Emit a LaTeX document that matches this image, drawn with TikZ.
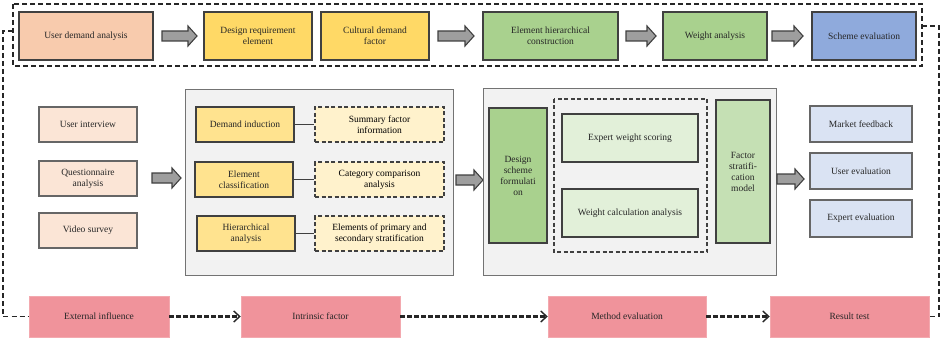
\documentclass[tikz,border=0pt]{standalone}
\usepackage{fontspec}
\setmainfont{Liberation Serif}
\usetikzlibrary{arrows.meta}
\definecolor{peach}{HTML}{F8CBAD}
\definecolor{lpeach}{HTML}{FBE5D6}
\definecolor{yel}{HTML}{FFD966}
\definecolor{myel}{HTML}{FFE38F}
\definecolor{lyel}{HTML}{FFF2CC}
\definecolor{grn}{HTML}{A9D18E}
\definecolor{mgrn}{HTML}{C5E0B4}
\definecolor{lgrn}{HTML}{E2F0D9}
\definecolor{blu}{HTML}{8FAADC}
\definecolor{lblu}{HTML}{DAE3F3}
\definecolor{pink}{HTML}{F0939B}
\definecolor{panel}{HTML}{F2F2F2}
\definecolor{edge}{HTML}{404040}
\newcommand\barr[3]{\draw[barrowst] ({#1},{#3-5}) -- ({#2-9},{#3-5}) -- ({#2-9},{#3-10}) -- ({#2},{#3}) -- ({#2-9},{#3+10}) -- ({#2-9},{#3+5}) -- ({#1},{#3+5}) -- cycle;}
\begin{document}
\begin{tikzpicture}[x=1pt,y=-1pt,
  every node/.style={font=\fontsize{9.5}{11}\selectfont, align=center, inner sep=1pt},
  box/.style={draw=edge, line width=1.2pt, minimum width=#1, text=black!85},
  pbox/.style={fill=pink, draw=pink!80!white, line width=0.5pt, minimum width=#1, minimum height=41pt, text=black!85},
  dbox/.style={draw=edge, line width=1.1pt, dash pattern=on 4pt off 2.5pt, fill=lyel, minimum width=#1, minimum height=35pt},
  barrowst/.style={draw=edge, fill=black!38, line width=1.1pt, line join=miter},
  loopln/.style={draw=black!85, line width=1.5pt, dash pattern=on 5pt off 3pt},
  chain/.style={draw=black!85, line width=2.2pt, dash pattern=on 5pt off 2pt, -{Straight Barb[length=6pt,width=11pt,line width=1.4pt]}},
  link/.style={draw=edge, line width=1pt}
]
\useasboundingbox (0,0) rectangle (941,342);
% top frame
\draw[loopln] (13,4) rectangle (922,66);
\node[box=134pt, minimum height=48pt, fill=peach] (uda) at (86,36) {User demand analysis};
\node[box=108pt, minimum height=48pt, fill=yel] (dre) at (258,36) {Design requirement\\element};
\node[box=108pt, minimum height=48pt, fill=yel] (cdf) at (375,36) {Cultural demand\\factor};
\node[box=135pt, minimum height=48pt, fill=grn] (ehc) at (550.5,36) {Element hierarchical\\construction};
\node[box=104pt, minimum height=48pt, fill=grn] (wa) at (715,36) {Weight analysis};
\node[box=104pt, minimum height=48pt, fill=blu] (se) at (864,36) {Scheme evaluation};
\barr{162}{197}{36}
\barr{438}{474}{36}
\barr{626}{656}{36}
\barr{772}{803}{36}
% left inputs
\node[box=98pt, minimum height=35pt, fill=lpeach, draw=black!60] (ui) at (88,124.5) {User interview};
\node[box=98pt, minimum height=35pt, fill=lpeach, draw=black!60] (qa) at (88,178.5) {Questionnaire\\analysis};
\node[box=98pt, minimum height=35pt, fill=lpeach, draw=black!60] (vs) at (88,230.5) {Video survey};
\barr{152}{181}{178}
% panel 1
\draw[fill=panel, draw=black!55, line width=0.9pt] (185,89) rectangle (453,275);
\node[box=98pt, minimum height=35pt, fill=myel] (di) at (245,124.5) {Demand induction};
\node[box=98pt, minimum height=35pt, fill=myel] (ec) at (244,179.5) {Element\\classification};
\node[box=98pt, minimum height=35pt, fill=myel] (ha) at (246,233.5) {Hierarchical\\analysis};
\node[dbox=129pt] (sf) at (379.5,124.5) {Summary factor\\information};
\node[dbox=129pt] (cc) at (379.5,179.5) {Category comparison\\analysis};
\node[dbox=129pt] (ep) at (379.5,233.5) {Elements of primary and\\secondary stratification};
\draw[link] (di.east) -- (sf.west);
\draw[link] (ec.east) -- (cc.west);
\draw[link] (ha.east) -- (ep.west);
\barr{456}{483}{180}
% panel 2
\draw[fill=panel, draw=black!55, line width=0.9pt] (483,88) rectangle (776,275);
\node[box=58pt, minimum height=135pt, fill=grn] (dsf) at (518,175.5) {Design\\scheme\\formulati\\on};
\draw[draw=edge, line width=1.1pt, dash pattern=on 4pt off 2.5pt] (554,99) rectangle (707,252);
\node[box=136pt, minimum height=48pt, fill=lgrn] (ews) at (630,138) {Expert weight scoring};
\node[box=136pt, minimum height=48pt, fill=lgrn] (wca) at (630,213) {Weight calculation analysis};
\node[box=54pt, minimum height=143pt, fill=mgrn] (fsm) at (743,171.5) {Factor\\stratifi-\\cation\\model};
\barr{777}{804}{179}
% right outputs
\node[box=102pt, minimum height=36pt, fill=lblu, draw=black!60] (mf) at (861,124) {Market feedback};
\node[box=102pt, minimum height=36pt, fill=lblu, draw=black!60] (ue) at (861,171) {User evaluation};
\node[box=102pt, minimum height=37pt, fill=lblu, draw=black!60] (ee) at (861,218.5) {Expert evaluation};
% bottom chain
\node[pbox=140pt] (ei) at (99,316.5) {External influence};
\node[pbox=159pt] (itf) at (320.5,316.5) {Intrinsic factor};
\node[pbox=158pt] (me) at (627,316.5) {Method evaluation};
\node[pbox=159pt] (rt) at (849.5,316.5) {Result test};
\draw[chain] (ei.east) -- (itf.west);
\draw[chain] (itf.east) -- (me.west);
\draw[chain] (me.east) -- (rt.west);
% feedback loop
\coordinate (lt) at (13,31);
\coordinate (rtop) at (922,26);
\draw[loopln] (lt) -- (3,31) -- (3,316.5) -- (ei.west);
\draw[loopln] (rtop) -- (939,26) -- (939,316.5) -- (rt.east);
\end{tikzpicture}
\end{document}
